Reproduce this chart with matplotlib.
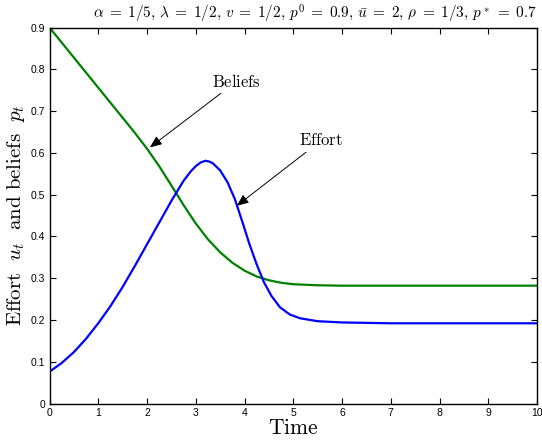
import matplotlib
matplotlib.use("Agg")
import matplotlib.pyplot as plt

plt.rcParams['mathtext.fontset'] = 'cm'

# Beliefs p_t (green)
belief_t = [0.0, 0.25, 0.5, 0.75, 1.0, 1.25, 1.5, 1.75, 2.0, 2.25, 2.5, 2.75, 3.0,
            3.25, 3.5, 3.75, 4.0, 4.25, 4.5, 4.75, 5.0, 5.5, 6.0, 7.0, 8.0, 10.0]
belief_p = [0.900, 0.864, 0.828, 0.792, 0.756, 0.720, 0.684, 0.648, 0.610, 0.568,
            0.522, 0.475, 0.431, 0.393, 0.362, 0.337, 0.318, 0.304, 0.295, 0.289,
            0.2855, 0.283, 0.282, 0.282, 0.282, 0.282]

# Effort u_t (blue)
effort_t = [0.0, 0.25, 0.5, 0.75, 1.0, 1.25, 1.5, 1.75, 2.0, 2.25, 2.5, 2.75, 2.9,
            3.0, 3.1, 3.2, 3.28, 3.35, 3.5, 3.65, 3.8, 3.95, 4.1, 4.25, 4.4, 4.55,
            4.73, 4.93, 5.14, 5.5, 6.0, 7.0, 10.0]
effort_u = [0.076, 0.097, 0.123, 0.155, 0.192, 0.233, 0.279, 0.329, 0.381, 0.433,
            0.485, 0.533, 0.556, 0.568, 0.577, 0.581, 0.579, 0.575, 0.558, 0.530,
            0.490, 0.437, 0.382, 0.333, 0.290, 0.258, 0.230, 0.213, 0.204, 0.197,
            0.194, 0.192, 0.192]

x_ticks = list(range(0, 11))
y_ticks = [0, 0.1, 0.2, 0.3, 0.4, 0.5, 0.6, 0.7, 0.8, 0.9]
y_tick_labels = ["0", "0.1", "0.2", "0.3", "0.4", "0.5", "0.6", "0.7", "0.8", "0.9"]

fig = plt.figure(figsize=(5.42, 4.43), dpi=100)
ax = fig.add_axes([49.5 / 542, 39.5 / 443, (537 - 49.5) / 542, (403.5 - 27.5) / 443])

ax.plot(belief_t, belief_p, color='#008000', lw=1.6)
ax.plot(effort_t, effort_u, color='#0000ff', lw=1.6)

ax.set_xlim(0, 10)
ax.set_ylim(0, 0.9)
ax.set_xticks(x_ticks)
ax.set_yticks(y_ticks)
ax.set_yticklabels(y_tick_labels)
ax.tick_params(direction='in', top=True, right=True, length=4, width=0.8,
               labelsize=7.5, pad=3)
for lab in ax.get_xticklabels() + ax.get_yticklabels():
    lab.set_fontfamily('Liberation Sans')
for s in ax.spines.values():
    s.set_linewidth(1.0)

ax.set_xlabel(r'$\mathrm{Time}$', fontsize=15.5, labelpad=0)
ax.set_ylabel(r'$\mathrm{Effort}\ \ u_t\ \ \mathrm{and\ beliefs}\ \ p_t$', fontsize=15, labelpad=3)

ax.set_title(r'$\alpha\;=\;1/5,\,\lambda\;=\;1/2,\,v\;=\;1/2,\,p^0\;=\;0.9,\,'
             r'\bar{u}\;=\;2,\,\rho\;=\;1/3,\,p^*\;=\;0.7$',
             loc='right', fontsize=11, pad=6)

arrow = dict(arrowstyle='-|>,head_length=0.6,head_width=0.25', color='black', lw=0.7,
             shrinkA=0, shrinkB=0)
ax.annotate(r'$\mathrm{Beliefs}$', xy=(2.06, 0.613), xytext=(3.33, 0.749),
            fontsize=12, ha='left', va='bottom', arrowprops=arrow)
ax.annotate(r'$\mathrm{Effort}$', xy=(3.84, 0.473), xytext=(5.12, 0.608),
            fontsize=12, ha='left', va='bottom', arrowprops=arrow)

fig.savefig('out.png', dpi=100)
